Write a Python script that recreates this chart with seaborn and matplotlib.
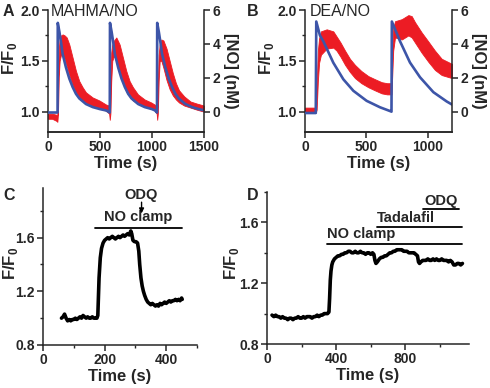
import numpy as np
import matplotlib
matplotlib.use("Agg")
import matplotlib.pyplot as plt
from matplotlib.ticker import MultipleLocator
import seaborn as sns

# ---- panel A: MAHMA/NO ----
tA_red = [0, 40, 80, 90, 96, 104, 112, 125, 141, 160, 180, 205, 237, 269, 301, 333, 365, 429, 494, 558, 588,
          594, 600, 608, 618, 635, 657, 689, 721, 753, 785, 817, 865, 929, 993, 1025, 1045,
          1050, 1056, 1064, 1074, 1090, 1110, 1140, 1170, 1200, 1230, 1260, 1310, 1370, 1430, 1500]
A_upper = [0.98, 0.98, 0.97, 0.97, 1.30, 1.62, 1.72, 1.75, 1.76, 1.75, 1.73, 1.66, 1.53, 1.40, 1.30, 1.24, 1.19, 1.14, 1.11, 1.07, 1.06,
           1.04, 1.30, 1.58, 1.66, 1.70, 1.73, 1.66, 1.53, 1.40, 1.30, 1.24, 1.17, 1.12, 1.09, 1.07, 1.06,
           1.04, 1.28, 1.56, 1.66, 1.71, 1.70, 1.62, 1.50, 1.38, 1.28, 1.21, 1.15, 1.10, 1.08, 1.06]
A_lower = [0.93, 0.93, 0.91, 0.90, 0.98, 1.35, 1.50, 1.56, 1.56, 1.52, 1.45, 1.36, 1.26, 1.19, 1.14, 1.11, 1.08, 1.05, 1.03, 1.01, 0.98,
           0.92, 0.98, 1.30, 1.50, 1.55, 1.50, 1.40, 1.29, 1.20, 1.15, 1.11, 1.08, 1.05, 1.03, 1.01, 0.98,
           0.92, 0.98, 1.30, 1.50, 1.50, 1.43, 1.31, 1.22, 1.16, 1.12, 1.09, 1.06, 1.04, 1.02, 1.00]
tA_no = [0, 92, 94, 110, 125, 141, 173, 205, 237, 269, 301, 365, 430, 500, 560,
         594, 596, 612, 627, 643, 675, 707, 739, 771, 803, 867, 930, 1000, 1030,
         1048, 1050, 1066, 1081, 1097, 1129, 1161, 1193, 1225, 1257, 1321, 1385, 1450, 1500]
A_no = [-0.05, -0.05, 5.24, 4.7, 4.1, 3.4, 2.6, 1.95, 1.45, 1.05, 0.78, 0.45, 0.27, 0.15, 0.07,
        -0.05, 5.24, 4.7, 4.1, 3.4, 2.6, 1.95, 1.45, 1.05, 0.78, 0.45, 0.27, 0.15, 0.07,
        -0.05, 5.24, 4.7, 4.1, 3.4, 2.6, 1.95, 1.45, 1.05, 0.78, 0.45, 0.27, 0.15, 0.08]

# ---- panel B: DEA/NO ----
tB_red = [0, 60, 88, 95, 105, 115, 130, 177, 231, 258, 290, 327, 367, 408, 460, 517, 570, 626, 670, 700, 706,
          712, 720, 735, 790, 844, 871, 898, 952, 1007, 1061, 1116, 1200]
B_upper = [1.04, 1.04, 1.04, 1.25, 1.60, 1.72, 1.79, 1.81, 1.79, 1.74, 1.68, 1.60, 1.52, 1.46, 1.40, 1.35, 1.32, 1.29, 1.28, 1.28, 1.28,
           1.60, 1.82, 1.89, 1.91, 1.95, 1.94, 1.88, 1.78, 1.69, 1.60, 1.52, 1.47]
B_lower = [0.99, 0.99, 0.99, 1.02, 1.30, 1.48, 1.56, 1.62, 1.63, 1.60, 1.54, 1.46, 1.39, 1.33, 1.28, 1.24, 1.21, 1.18, 1.17, 1.17, 1.17,
           1.35, 1.60, 1.73, 1.71, 1.75, 1.73, 1.68, 1.58, 1.49, 1.41, 1.36, 1.33]
tB_no = [0, 88, 92, 122, 150, 231, 313, 395, 503, 612, 700, 706, 709, 776, 857, 939, 1048, 1157, 1200]
B_no = [-0.08, -0.08, 5.32, 4.5, 4.15, 2.89, 1.91, 1.23, 0.64, 0.26, 0.02, 0.0, 5.32, 4.15, 2.9, 2.03, 1.15, 0.6, 0.42]

# ---- panel C: NO clamp + ODQ ----
tC = [60, 65, 70, 75, 80, 85, 90, 95, 100, 105, 110, 115, 120, 125, 130, 135, 140, 145, 150, 155, 160, 165, 170, 175,
      178, 182, 186, 190, 195, 200, 205, 210, 215, 220, 225, 230, 235, 240, 245, 250, 255, 260, 265, 270, 275, 280,
      285, 288, 292, 297, 302, 307, 311, 314, 318, 322, 326, 330, 335, 340, 345, 350, 355, 360, 365, 370, 375, 380,
      385, 390, 395, 400, 405, 410, 415, 420, 425, 430, 435, 440, 445, 450, 452]
C_val = [1.00, 1.01, 1.03, 1.00, 0.98, 0.99, 0.98, 0.99, 0.99, 1.00, 0.99, 1.00, 1.01, 1.00, 1.02, 1.01, 1.00, 1.01,
         1.00, 1.00, 1.01, 1.00, 1.00, 1.00, 1.02, 1.30, 1.45, 1.52, 1.56, 1.58, 1.59, 1.60, 1.59, 1.60, 1.61, 1.60,
         1.59, 1.60, 1.61, 1.60, 1.61, 1.62, 1.61, 1.62, 1.63, 1.62, 1.65, 1.63, 1.58, 1.57, 1.57, 1.56, 1.50, 1.40,
         1.30, 1.24, 1.20, 1.17, 1.14, 1.12, 1.11, 1.10, 1.11, 1.10, 1.09, 1.10, 1.09, 1.11, 1.10, 1.11, 1.12, 1.11,
         1.12, 1.13, 1.12, 1.13, 1.13, 1.14, 1.13, 1.14, 1.13, 1.15, 1.14]
C_clamp = (168, 452)
C_odq = 320

# ---- panel D: NO clamp + Tadalafil + ODQ ----
tD = [29, 40, 50, 60, 70, 80, 90, 100, 110, 120, 130, 140, 150, 160, 170, 180, 190, 200, 210, 220, 230, 240, 250,
      260, 270, 280, 290, 300, 310, 320, 330, 340, 350, 358, 362, 366, 370, 375, 380, 390, 400, 410, 420, 430, 440,
      450, 460, 470, 480, 490, 500, 510, 520, 530, 540, 550, 560, 570, 580, 590, 600, 610, 618, 624, 630, 638, 650,
      660, 670, 680, 690, 700, 710, 720, 730, 740, 750, 760, 770, 780, 790, 800, 810, 820, 830, 840, 850, 860, 870,
      876, 882, 890, 900, 910, 920, 930, 940, 950, 960, 970, 980, 990, 1000, 1010, 1020, 1030, 1040, 1050, 1060,
      1070, 1080, 1090, 1100, 1110, 1120, 1130]
D_val = [0.99, 0.98, 0.99, 0.98, 0.98, 0.97, 0.98, 0.97, 0.97, 0.96, 0.97, 0.97, 0.96, 0.97, 0.97, 0.98, 0.97, 0.97,
         0.98, 0.97, 0.98, 0.98, 0.98, 0.97, 0.98, 0.98, 0.99, 0.98, 0.99, 0.99, 1.00, 1.00, 1.00, 1.01, 1.10, 1.22,
         1.28, 1.32, 1.34, 1.36, 1.37, 1.38, 1.38, 1.39, 1.39, 1.40, 1.40, 1.41, 1.41, 1.40, 1.40, 1.41, 1.40, 1.40,
         1.41, 1.40, 1.40, 1.39, 1.40, 1.40, 1.39, 1.40, 1.39, 1.35, 1.33, 1.34, 1.36, 1.37, 1.37, 1.38, 1.38, 1.39,
         1.40, 1.40, 1.41, 1.41, 1.42, 1.42, 1.42, 1.42, 1.41, 1.41, 1.41, 1.40, 1.40, 1.40, 1.40, 1.39, 1.38, 1.34,
         1.33, 1.34, 1.35, 1.35, 1.35, 1.36, 1.35, 1.35, 1.36, 1.35, 1.36, 1.35, 1.35, 1.36, 1.35, 1.35, 1.35, 1.34,
         1.35, 1.34, 1.32, 1.32, 1.33, 1.33, 1.32, 1.33]
D_bars = [("NO clamp", 348, 1125), ("Tadalafil", 638, 1125), ("ODQ", 900, 1113)]

RED = "#ec1c24"
BLUE = "#3d55a8"

sns.set_style("ticks")
plt.rcParams['font.family'] = ['Liberation Sans', 'DejaVu Sans']
plt.rcParams['font.weight'] = 'bold'
plt.rcParams['mathtext.fontset'] = 'custom'
plt.rcParams['mathtext.rm'] = 'Liberation Sans:bold'
plt.rcParams['mathtext.bf'] = 'Liberation Sans:bold'
plt.rcParams['axes.linewidth'] = 1.1

W, H = 490, 388
fig = plt.figure(figsize=(W / 100, H / 100), dpi=100)


def rect(l, r, t, b):
    return [l / W, 1 - b / H, (r - l) / W, (b - t) / H]


def style(ax, fs=10):
    ax.tick_params(which='major', length=4, width=1.1, labelsize=fs, pad=2)
    ax.tick_params(which='minor', length=2.5, width=1.0)
    for lab in ax.get_xticklabels() + ax.get_yticklabels():
        lab.set_fontweight('bold')


def top_panel(r, t_red, up, lo, t_no, no, xmax, xstep, title, title_x, ylab_x):
    ax = fig.add_axes(r)
    ax.fill_between(t_red, lo, up, color=RED, lw=0.6, edgecolor=RED)
    ax.set_xlim(0, xmax)
    ax.set_ylim(0.8, 2.0)
    ax.set_yticks([1.0, 1.5, 2.0])
    ax.yaxis.set_minor_locator(MultipleLocator(0.25))
    ax.set_xticks(np.arange(0, xmax + 1, xstep))
    ax.spines['top'].set_visible(False)
    ax.spines['right'].set_visible(False)
    ax.set_xlabel("Time (s)", fontsize=12, fontweight='bold', labelpad=1)
    ax.set_ylabel(r"F/F$_0$", fontsize=12, fontweight='bold')
    ax.yaxis.set_label_coords(ylab_x, 0.6)
    ax2 = ax.twinx()
    sns.lineplot(x=t_no, y=no, ax=ax2, color=BLUE, lw=1.9, sort=False)
    ax2.set_ylim(-1.2, 6)
    ax2.set_yticks([0, 2, 4, 6])
    ax2.spines['top'].set_visible(False)
    ax2.spines['left'].set_visible(False)
    ax2.set_ylabel("[NO] (nM)", fontsize=12, fontweight='bold', rotation=270, labelpad=13)
    ax.text(title_x, 1.99, title, fontsize=11.5, fontweight='normal', va='center', ha='left')
    style(ax)
    style(ax2)
    return ax


top_panel(rect(48, 204, 10, 132), tA_red, A_upper, A_lower, tA_no, A_no, 1500, 500, "MAHMA/NO", 26, -0.186)
top_panel(rect(305, 452, 10, 132), tB_red, B_upper, B_lower, tB_no, B_no, 1200, 500, "DEA/NO", 41, -0.197)

# panel C
axC = fig.add_axes(rect(43, 197, 188, 345))
sns.lineplot(x=tC, y=C_val, ax=axC, color='black', lw=2.6, sort=False)
axC.set_xlim(0, 500)
axC.set_ylim(0.8, 1.97)
axC.set_xticks([0, 200, 400])
axC.set_yticks([0.8, 1.2, 1.6])
axC.xaxis.set_minor_locator(MultipleLocator(100))
axC.yaxis.set_minor_locator(MultipleLocator(0.2))
sns.despine(ax=axC)
axC.set_xlabel("Time (s)", fontsize=12, fontweight='bold', labelpad=1)
axC.set_ylabel(r"F/F$_0$", fontsize=12, fontweight='bold')
axC.yaxis.set_label_coords(-0.15, 0.52)
axC.plot(C_clamp, [1.675, 1.675], color='black', lw=1.3)
axC.text(sum(C_clamp) / 2, 1.70, "NO clamp", fontsize=10.5, ha='center', va='bottom')
axC.text(C_odq, 1.92, "ODQ", fontsize=10.5, ha='center', va='center')
axC.annotate("", xy=(C_odq, 1.76), xytext=(C_odq, 1.885),
             arrowprops=dict(arrowstyle='-|>', color='black', lw=1.0, mutation_scale=7))
style(axC)

# panel D
axD = fig.add_axes(rect(267, 469, 192, 344))
sns.lineplot(x=tD, y=D_val, ax=axD, color='black', lw=2.6, sort=False)
axD.set_xlim(0, 1168)
axD.set_ylim(0.8, 1.8)
axD.set_xticks([0, 400, 800])
axD.set_yticks([0.8, 1.2, 1.6])
axD.xaxis.set_minor_locator(MultipleLocator(200))
axD.yaxis.set_minor_locator(MultipleLocator(0.2))
sns.despine(ax=axD)
axD.set_xlabel("Time (s)", fontsize=12, fontweight='bold', labelpad=1)
axD.set_ylabel(r"F/F$_0$", fontsize=12, fontweight='bold')
axD.yaxis.set_label_coords(-0.129, 0.53)
levels = [1.46, 1.567, 1.685]
for (name, t0, t1), lev in zip(D_bars, levels):
    axD.plot([t0, t1], [lev, lev], color='black', lw=1.3)
    if name == "ODQ":
        axD.text((t0 + t1) / 2, lev + 0.01, name, fontsize=10.5, ha='center', va='bottom')
    else:
        axD.text(t0, lev + 0.015, name, fontsize=10.5, ha='left', va='bottom')
style(axD)

for lab, x, y in [("A", 3, 12), ("B", 247, 12), ("C", 3, 196), ("D", 247, 196)]:
    fig.text(x / W, 1 - y / H, lab, fontsize=11.5, fontweight='bold', ha='left', va='center')

fig.savefig("out.png", dpi=100)
